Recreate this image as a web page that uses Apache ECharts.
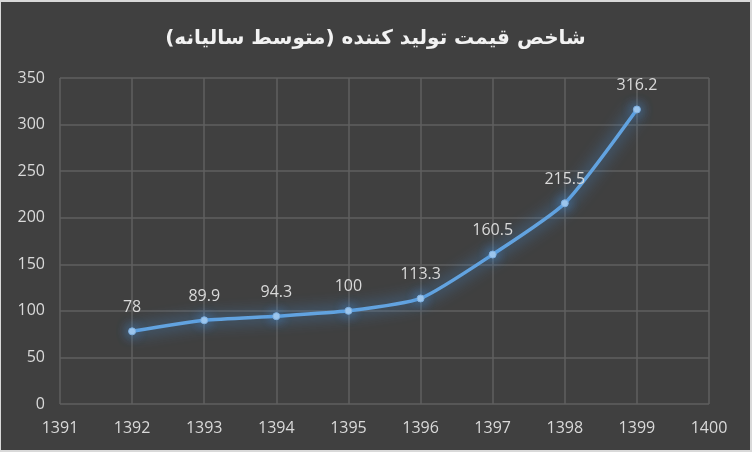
<!DOCTYPE html>
<html><head><meta charset="utf-8">
<script src="https://cdn.jsdelivr.net/npm/echarts@6/dist/echarts.min.js"></script>
<style>
html,body{margin:0;padding:0;background:#d9d9d9;}
#c{position:absolute;left:1px;top:2px;width:749px;height:448px;background:#404040;}
</style></head><body>
<div id="c"></div>
<script>
const titleText = 'شاخص قیمت تولید کننده (متوسط سالیانه)';
const years = [1392, 1393, 1394, 1395, 1396, 1397, 1398, 1399];
const values = [78, 89.9, 94.3, 100, 113.3, 160.5, 215.5, 316.2];
const xMin = 1391, xMax = 1400, yMin = 0, yMax = 350;

const chart = echarts.init(document.getElementById('c'));
chart.setOption({
  backgroundColor: '#404040',
  animation: false,
  title: {
    text: titleText, left: 'center', top: 22,
    textStyle: {color: '#f2f2f2', fontSize: 20, fontWeight: 'bold', fontFamily: 'DejaVu Sans'}
  },
  grid: {left: 59, right: 41, top: 76, bottom: 46},
  xAxis: {
    type: 'value', min: xMin, max: xMax, interval: 1,
    axisLine: {show: false}, axisTick: {show: false},
    splitLine: {show: true, lineStyle: {color: '#5f5f5f', width: 1.5}},
    axisLabel: {color: '#d9d9d9', fontSize: 16, fontFamily: 'Open Sans', margin: 16,
      formatter: v => String(v)}
  },
  yAxis: {
    type: 'value', min: yMin, max: yMax, interval: 50,
    axisLine: {show: false}, axisTick: {show: false},
    splitLine: {show: true, lineStyle: {color: '#5f5f5f', width: 1.5}},
    axisLabel: {color: '#d9d9d9', fontSize: 16, fontFamily: 'Open Sans', margin: 15}
  },
  series: [{
    type: 'line',
    data: years.map((y, i) => [y, values[i]]),
    smooth: 0.2,
    symbol: 'circle', symbolSize: 7,
    lineStyle: {color: '#62a3e0', width: 3.5, shadowColor: 'rgba(70,150,230,1)', shadowBlur: 16},
    itemStyle: {color: '#a3c9ee', borderColor: '#7fb0e0', borderWidth: 1, shadowColor: 'rgba(70,150,230,1)', shadowBlur: 12},
    label: {show: true, position: 'top', distance: 12, color: '#d9d9d9', fontSize: 16, fontFamily: 'Open Sans'}
  }]
});
</script></body></html>
